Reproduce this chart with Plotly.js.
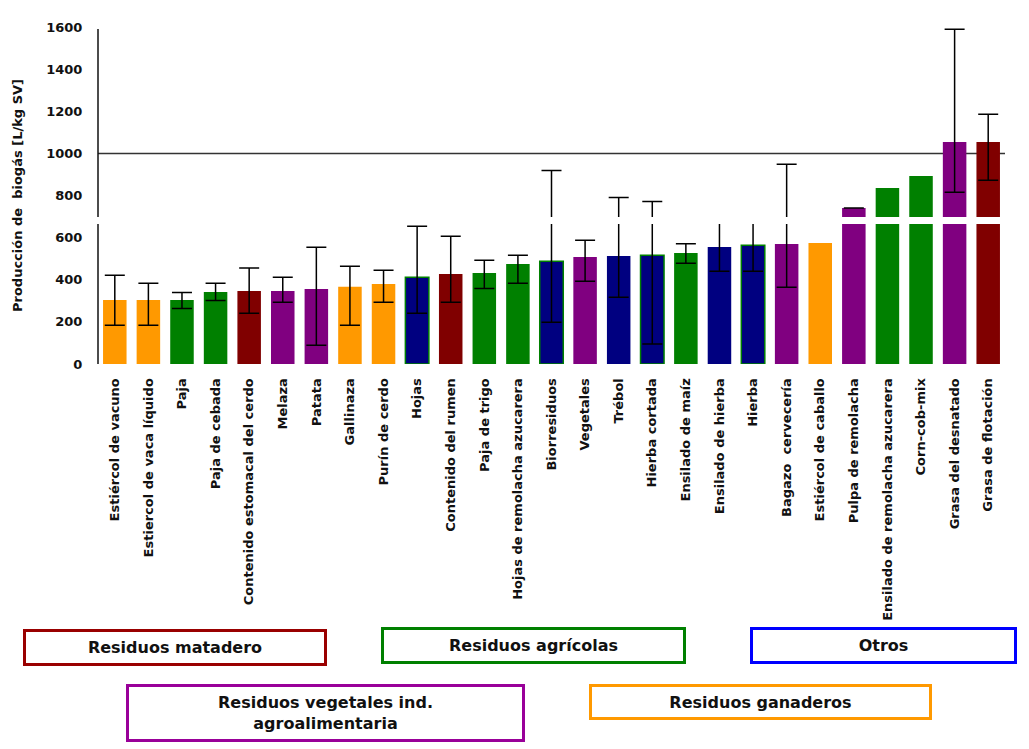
<!DOCTYPE html>
<html>
<head>
<meta charset="utf-8">
<script src="https://cdn.plot.ly/plotly-3.0.1.min.js"></script>
<style>body{margin:0;background:#fff;} #chart{width:1029px;height:749px;}</style>
</head>
<body>
<div id="chart"></div>
<script>
const categories = [
  "Estiércol de vacuno", "Estiercol de vaca líquido", "Paja", "Paja de cebada",
  "Contenido estomacal del cerdo", "Melaza", "Patata", "Gallinaza", "Purín de cerdo",
  "Hojas", "Contenido del rumen", "Paja de trigo", "Hojas de remolacha azucarera",
  "Biorresiduos", "Vegetales", "Trébol", "Hierba cortada", "Ensilado de maíz",
  "Ensilado de hierba", "Hierba", "Bagazo\u00a0 cervecería", "Estiércol de caballo",
  "Pulpa de remolacha", "Ensilado de remolacha azucarera", "Corn-cob-mix",
  "Grasa del desnatado", "Grasa de flotación"
];
const values = [304, 304, 304, 342, 347, 347, 356, 367, 380, 412, 427, 432, 475, 488, 508, 513, 516, 527, 556, 564, 570, 575, 741, 836, 893, 1054, 1054];
const errPlus = [117, 79, 36, 41, 109, 65, 198, 97, 65, 242, 179, 60, 41, 431, 79, 278, 256, 44, 126, 118, 378, NaN, 0, NaN, NaN, 535, 132];
const errMinus = [120, 120, 40, 40, 106, 54, 267, 183, 87, 171, 134, 73, 92, 290, 115, 196, 421, 49, 116, 124, 206, NaN, 0, NaN, NaN, 239, 182];
const groups = ["ganadero", "ganadero", "agricola", "agricola", "matadero", "vegetal", "vegetal", "ganadero", "ganadero",
  "otros", "matadero", "agricola", "agricola", "otros", "vegetal", "otros", "otros", "agricola",
  "otros", "otros", "vegetal", "ganadero", "vegetal", "agricola", "agricola", "vegetal", "matadero"];
const greenOutlined = ["Hojas", "Biorresiduos", "Hierba cortada", "Hierba"];

const groupColors = {matadero: "#800000", agricola: "#008000", otros: "#000080", vegetal: "#800080", ganadero: "#FF9900"};
const boxLabels = ["Residuos matadero", "Residuos agrícolas", "Otros", "Residuos vegetales ind.<br>agroalimentaria", "Residuos ganaderos"];
const boxColors = ["#990000", "#008000", "#0000FF", "#990099", "#FF9900"];

const barColors = groups.map(g => groupColors[g]);
const lineColors = categories.map((c, i) => greenOutlined.includes(c) ? "#008000" : barColors[i]);
const lineWidths = categories.map(c => greenOutlined.includes(c) ? 1.5 : 0);

const trace = {
  type: "bar",
  x: categories,
  y: values,
  marker: {color: barColors, line: {color: lineColors, width: lineWidths}},
  error_y: {type: "data", symmetric: false, array: errPlus, arrayminus: errMinus,
            color: "#000", thickness: 1.5, width: 10},
  width: 0.7,
  hoverinfo: "x+y"
};

// box geometry in paper coordinates (x center, y center, width, height)
const boxGeom = [
  [0.0849, -0.8412, 298, 31],
  [0.4802, -0.8353, 299, 31],
  [0.8660, -0.8353, 261, 31],
  [0.2508, -1.0356, 393, 52],
  [0.7304, -1.0030, 337, 30]
];
const annotations = boxLabels.map((t, i) => ({
  text: t, xref: "paper", yref: "paper",
  x: boxGeom[i][0], y: boxGeom[i][1], xanchor: "center", yanchor: "middle",
  width: boxGeom[i][2], height: boxGeom[i][3],
  showarrow: false, bordercolor: boxColors[i], borderwidth: 3, borderpad: 0,
  bgcolor: "#fff",
  font: {family: "DejaVu Sans", size: 16, color: "#111", weight: "bold"}
}));

const layout = {
  width: 1029, height: 749, autosize: false,
  margin: {l: 98, r: 24, t: 27, b: 385},
  paper_bgcolor: "#fff", plot_bgcolor: "#fff",
  showlegend: false,
  bargap: 0.3,
  font: {family: "DejaVu Sans", color: "#111"},
  xaxis: {
    type: "category", tickangle: -90, showgrid: false, showline: false, zeroline: false,
    ticks: "outside", ticklen: 8, tickcolor: "rgba(0,0,0,0)",
    tickfont: {family: "DejaVu Sans", size: 13, color: "#111", weight: "bold"}
  },
  yaxis: {
    range: [0, 1600], dtick: 200, showgrid: false, showline: false, zeroline: false,
    ticks: "outside", ticklen: 12, tickcolor: "rgba(0,0,0,0)",
    tickfont: {family: "DejaVu Sans", size: 13, color: "#111", weight: "bold"},
    title: {text: "Producción de\u00a0 biogás [L/kg SV]", standoff: 20,
            font: {family: "DejaVu Sans", size: 13, color: "#111", weight: "bold"}}
  },
  shapes: [
    {type: "line", xref: "paper", yref: "y", x0: 0, x1: 1, y0: 1000, y1: 1000,
     line: {color: "#333", width: 1.5}, layer: "below"},
    {type: "rect", xref: "paper", yref: "y", x0: -0.01, x1: 1.01, y0: 665, y1: 698,
     fillcolor: "#fff", line: {width: 0}, layer: "above"},
    {type: "line", xref: "paper", yref: "y", x0: 0, x1: 0, y0: 0, y1: 665,
     line: {color: "#111", width: 1.5}, layer: "above"},
    {type: "line", xref: "paper", yref: "y", x0: 0, x1: 0, y0: 698, y1: 1590,
     line: {color: "#111", width: 1.5}, layer: "above"}
  ],
  annotations: annotations
};

Plotly.newPlot("chart", [trace], layout, {displayModeBar: false, staticPlot: true});
</script>
</body>
</html>
